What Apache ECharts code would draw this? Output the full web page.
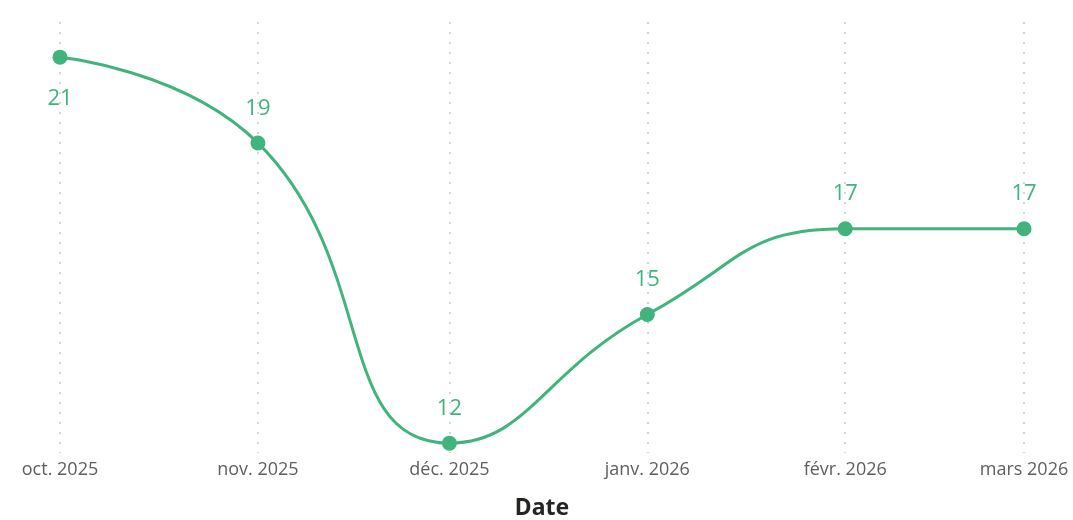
<!DOCTYPE html>
<html>
<head>
<meta charset="utf-8">
<script src="https://cdn.jsdelivr.net/npm/echarts@6/dist/echarts.min.js"></script>
<style>html,body{margin:0;padding:0;background:#fff}#c{width:1073px;height:520px}</style>
</head>
<body>
<div id="c"></div>
<script>
const dates = ['2025-10-01', '2025-11-01', '2025-12-01', '2026-01-01', '2026-02-01', '2026-03-01'];
const values = [21, 19, 12, 15, 17, 17];
const monthNames = ['janv.', 'févr.', 'mars', 'avr.', 'mai', 'juin', 'juil.', 'août', 'sept.', 'oct.', 'nov.', 'déc.'];
const axisTitle = 'Date';

const green = '#41B47E';
const chart = echarts.init(document.getElementById('c'), null, {renderer: 'canvas'});
chart.setOption({
  animation: false,
  grid: {left: 60, right: 49, top: 22, bottom: 67, containLabel: false, outerBoundsMode: 'none'},
  xAxis: {
    type: 'time',
    min: dates[0],
    max: dates[dates.length - 1],
    splitNumber: 5,
    name: axisTitle,
    nameLocation: 'middle',
    nameGap: 44,
    nameTextStyle: {color: '#252423', fontSize: 23, fontWeight: 'bold', fontFamily: 'Noto Sans'},
    axisLine: {show: false},
    axisTick: {show: false},
    splitLine: {show: true, lineStyle: {color: '#d6d6d6', width: 2, type: [2, 8]}},
    axisLabel: {
      color: '#605E5C', fontSize: 18, fontFamily: 'Open Sans', margin: 8,
      showMinLabel: true, showMaxLabel: true,
      formatter: function (v) { const d = new Date(v); return monthNames[d.getMonth()] + ' ' + d.getFullYear(); }
    }
  },
  yAxis: {type: 'value', min: 11.77, max: 21.82, show: false, splitLine: {show: false}},
  series: [{
    type: 'line',
    data: dates.map((d, i) => ({value: [d, values[i]], label: i === 0 ? {position: 'bottom', distance: 23} : {}})),
    smooth: 0.5,
    symbol: 'circle',
    symbolSize: 15,
    itemStyle: {color: green},
    lineStyle: {color: green, width: 3},
    label: {
      show: true, position: 'top', distance: 16, color: green, fontSize: 22, fontFamily: 'Open Sans'
    },
    labelLayout: {hideOverlap: false}
  }]
});
</script>
</body>
</html>
